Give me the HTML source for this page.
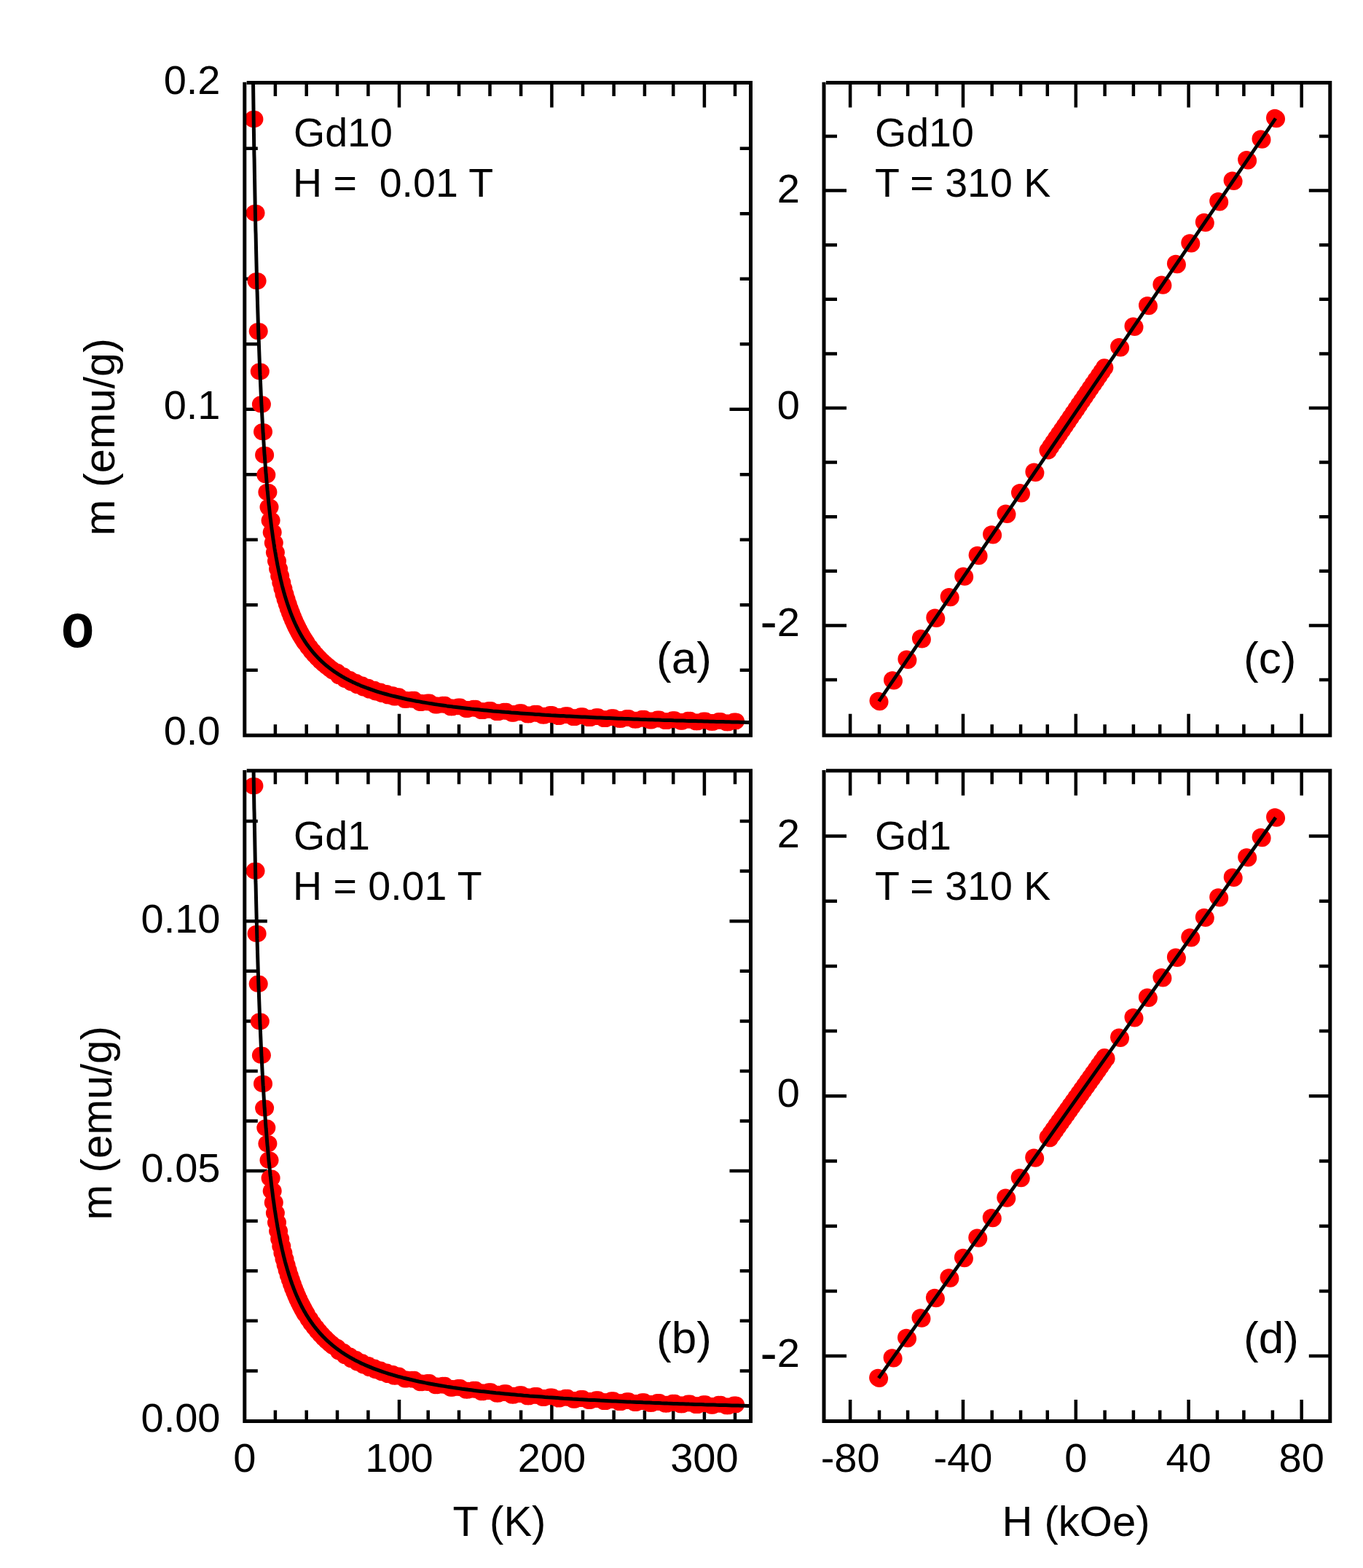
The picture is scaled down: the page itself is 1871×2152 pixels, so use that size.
<!DOCTYPE html>
<html><head><meta charset="utf-8"><title>Magnetization plots</title><style>
html,body{margin:0;padding:0;background:#fff;overflow:hidden;}
svg{display:block;}
text{font-family:"Liberation Sans",Arial,sans-serif;fill:#000;}
</style></head><body>
<svg width="1871" height="2152" viewBox="0 0 1871 2152">
<rect width="1871" height="2152" fill="#fff"/>
<defs>
<clipPath id="cA"><rect x="337.8" y="115.5" width="690.7" height="891.7"/></clipPath>
<clipPath id="cB"><rect x="337.8" y="1059.8" width="690.7" height="888.7"/></clipPath>
<clipPath id="cC"><rect x="1133" y="115.5" width="690.8" height="891.7"/></clipPath>
<clipPath id="cD"><rect x="1133" y="1059.8" width="690.8" height="888.7"/></clipPath>
</defs>
<path d="M377.9 1009.2V994.2M377.9 113.5V132M420.7 1009.2V994.2M420.7 113.5V132M463 1009.2V994.2M463 113.5V132M505.4 1009.2V994.2M505.4 113.5V132M548 1009.2V979.7M548 113.5V147.5M587.7 1009.2V994.2M587.7 113.5V132M630 1009.2V994.2M630 113.5V132M672.5 1009.2V994.2M672.5 113.5V132M715.1 1009.2V994.2M715.1 113.5V132M757.4 1009.2V979.7M757.4 113.5V147.5M800 1009.2V994.2M800 113.5V132M842.6 1009.2V994.2M842.6 113.5V132M884.9 1009.2V994.2M884.9 113.5V132M924.2 1009.2V994.2M924.2 113.5V132M966.9 1009.2V979.7M966.9 113.5V147.5M1009 1009.2V994.2M1009 113.5V132M335.8 919.7H353.8M1030.5 919.7H1015.7M335.8 830.2H353.8M1030.5 830.2H1015.7M335.8 740.7H353.8M1030.5 740.7H1015.7M335.8 651.2H353.8M1030.5 651.2H1015.7M335.8 561.7H366.8M1030.5 561.7H1001.5M335.8 472.2H353.8M1030.5 472.2H1015.7M335.8 382.7H353.8M1030.5 382.7H1015.7M335.8 293.2H353.8M1030.5 293.2H1015.7M335.8 203.7H353.8M1030.5 203.7H1015.7" stroke="#000" stroke-width="4.5" fill="none"/>
<path d="M377.9 1950.5V1935.5M377.9 1057.8V1076.3M420.7 1950.5V1935.5M420.7 1057.8V1076.3M463 1950.5V1935.5M463 1057.8V1076.3M505.4 1950.5V1935.5M505.4 1057.8V1076.3M548 1950.5V1921M548 1057.8V1091.8M587.7 1950.5V1935.5M587.7 1057.8V1076.3M630 1950.5V1935.5M630 1057.8V1076.3M672.5 1950.5V1935.5M672.5 1057.8V1076.3M715.1 1950.5V1935.5M715.1 1057.8V1076.3M757.4 1950.5V1921M757.4 1057.8V1091.8M800 1950.5V1935.5M800 1057.8V1076.3M842.6 1950.5V1935.5M842.6 1057.8V1076.3M884.9 1950.5V1935.5M884.9 1057.8V1076.3M924.2 1950.5V1935.5M924.2 1057.8V1076.3M966.9 1950.5V1921M966.9 1057.8V1091.8M1009 1950.5V1935.5M1009 1057.8V1076.3M335.8 1881.4H353.8M1030.5 1881.4H1015.7M335.8 1812.8H353.8M1030.5 1812.8H1015.7M335.8 1744.3H353.8M1030.5 1744.3H1015.7M335.8 1675.7H353.8M1030.5 1675.7H1015.7M335.8 1607.1H366.8M1030.5 1607.1H1001.5M335.8 1538.5H353.8M1030.5 1538.5H1015.7M335.8 1469.9H353.8M1030.5 1469.9H1015.7M335.8 1401.4H353.8M1030.5 1401.4H1015.7M335.8 1332.8H353.8M1030.5 1332.8H1015.7M335.8 1264.2H366.8M1030.5 1264.2H1001.5M335.8 1195.6H353.8M1030.5 1195.6H1015.7M335.8 1127H353.8M1030.5 1127H1015.7" stroke="#000" stroke-width="4.5" fill="none"/>
<path d="M1167.1 1009.2V979.7M1167.1 113.5V147.5M1207 1009.2V994.2M1207 113.5V132M1246.1 1009.2V994.2M1246.1 113.5V132M1285.9 1009.2V994.2M1285.9 113.5V132M1322 1009.2V979.7M1322 113.5V147.5M1361.7 1009.2V994.2M1361.7 113.5V132M1401.1 1009.2V994.2M1401.1 113.5V132M1437.8 1009.2V994.2M1437.8 113.5V132M1476.8 1009.2V979.7M1476.8 113.5V147.5M1516.6 1009.2V994.2M1516.6 113.5V132M1555.9 1009.2V994.2M1555.9 113.5V132M1592.2 1009.2V994.2M1592.2 113.5V132M1631.6 1009.2V979.7M1631.6 113.5V147.5M1671 1009.2V994.2M1671 113.5V132M1707.4 1009.2V994.2M1707.4 113.5V132M1746.9 1009.2V994.2M1746.9 113.5V132M1786.7 1009.2V979.7M1786.7 113.5V147.5M1131 933H1149M1825.8 933H1811M1131 858.4H1162M1825.8 858.4H1796.8M1131 783.8H1149M1825.8 783.8H1811M1131 709.2H1149M1825.8 709.2H1811M1131 634.6H1149M1825.8 634.6H1811M1131 560H1162M1825.8 560H1796.8M1131 485.4H1149M1825.8 485.4H1811M1131 410.8H1149M1825.8 410.8H1811M1131 336.2H1149M1825.8 336.2H1811M1131 261.6H1162M1825.8 261.6H1796.8M1131 187H1149M1825.8 187H1811" stroke="#000" stroke-width="4.5" fill="none"/>
<path d="M1167.1 1950.5V1921M1167.1 1057.8V1091.8M1207 1950.5V1935.5M1207 1057.8V1076.3M1246.1 1950.5V1935.5M1246.1 1057.8V1076.3M1285.9 1950.5V1935.5M1285.9 1057.8V1076.3M1322 1950.5V1921M1322 1057.8V1091.8M1361.7 1950.5V1935.5M1361.7 1057.8V1076.3M1401.1 1950.5V1935.5M1401.1 1057.8V1076.3M1437.8 1950.5V1935.5M1437.8 1057.8V1076.3M1476.8 1950.5V1921M1476.8 1057.8V1091.8M1516.6 1950.5V1935.5M1516.6 1057.8V1076.3M1555.9 1950.5V1935.5M1555.9 1057.8V1076.3M1592.2 1950.5V1935.5M1592.2 1057.8V1076.3M1631.6 1950.5V1921M1631.6 1057.8V1091.8M1671 1950.5V1935.5M1671 1057.8V1076.3M1707.4 1950.5V1935.5M1707.4 1057.8V1076.3M1746.9 1950.5V1935.5M1746.9 1057.8V1076.3M1786.7 1950.5V1921M1786.7 1057.8V1091.8M1131 1861.1H1162M1825.8 1861.1H1796.8M1131 1771.9H1149M1825.8 1771.9H1811M1131 1682.7H1149M1825.8 1682.7H1811M1131 1593.5H1149M1825.8 1593.5H1811M1131 1504.3H1162M1825.8 1504.3H1796.8M1131 1415.1H1149M1825.8 1415.1H1811M1131 1325.9H1149M1825.8 1325.9H1811M1131 1236.7H1149M1825.8 1236.7H1811M1131 1147.5H1162M1825.8 1147.5H1796.8" stroke="#000" stroke-width="4.5" fill="none"/>
<g fill="#ff0000">
<g clip-path="url(#cA)"><circle cx="346.8" cy="163.5" r="11.4"/><circle cx="350" cy="163.5" r="11.4"/><circle cx="348.9" cy="292.3" r="11.4"/><circle cx="352.1" cy="292.3" r="11.4"/><circle cx="351" cy="385.6" r="11.4"/><circle cx="354.2" cy="385.6" r="11.4"/><circle cx="353.1" cy="454.6" r="11.4"/><circle cx="356.3" cy="454.6" r="11.4"/><circle cx="355.2" cy="509.8" r="11.4"/><circle cx="358.4" cy="509.8" r="11.4"/><circle cx="357.3" cy="554.9" r="11.4"/><circle cx="360.5" cy="554.9" r="11.4"/><circle cx="359.4" cy="592.6" r="11.4"/><circle cx="362.6" cy="592.6" r="11.4"/><circle cx="361.5" cy="624.4" r="11.4"/><circle cx="364.7" cy="624.4" r="11.4"/><circle cx="363.7" cy="651.7" r="11.4"/><circle cx="366.9" cy="651.7" r="11.4"/><circle cx="365.8" cy="675.4" r="11.4"/><circle cx="369" cy="675.4" r="11.4"/><circle cx="367.9" cy="696.1" r="11.4"/><circle cx="371.1" cy="696.1" r="11.4"/><circle cx="370" cy="714.3" r="11.4"/><circle cx="373.2" cy="714.3" r="11.4"/><circle cx="372.1" cy="730.6" r="11.4"/><circle cx="375.3" cy="730.6" r="11.4"/><circle cx="374.2" cy="745.1" r="11.4"/><circle cx="377.4" cy="745.1" r="11.4"/><circle cx="376.3" cy="758.2" r="11.4"/><circle cx="379.5" cy="758.2" r="11.4"/><circle cx="378.4" cy="770" r="11.4"/><circle cx="381.6" cy="770" r="11.4"/><circle cx="380.5" cy="780.7" r="11.4"/><circle cx="383.7" cy="780.7" r="11.4"/><circle cx="382.6" cy="790.5" r="11.4"/><circle cx="385.8" cy="790.5" r="11.4"/><circle cx="384.7" cy="799.5" r="11.4"/><circle cx="387.9" cy="799.5" r="11.4"/><circle cx="386.8" cy="807.8" r="11.4"/><circle cx="390" cy="807.8" r="11.4"/><circle cx="388.9" cy="815.5" r="11.4"/><circle cx="392.1" cy="815.5" r="11.4"/><circle cx="391" cy="822.5" r="11.4"/><circle cx="394.2" cy="822.5" r="11.4"/><circle cx="393.1" cy="829.1" r="11.4"/><circle cx="396.3" cy="829.1" r="11.4"/><circle cx="395.2" cy="835.2" r="11.4"/><circle cx="398.4" cy="835.2" r="11.4"/><circle cx="397.3" cy="840.9" r="11.4"/><circle cx="400.5" cy="840.9" r="11.4"/><circle cx="399.4" cy="846.3" r="11.4"/><circle cx="402.6" cy="846.3" r="11.4"/><circle cx="401.5" cy="851.3" r="11.4"/><circle cx="404.7" cy="851.3" r="11.4"/><circle cx="403.6" cy="856" r="11.4"/><circle cx="406.8" cy="856" r="11.4"/><circle cx="405.7" cy="860.4" r="11.4"/><circle cx="408.9" cy="860.4" r="11.4"/><circle cx="407.8" cy="864.6" r="11.4"/><circle cx="411" cy="864.6" r="11.4"/><circle cx="409.9" cy="868.5" r="11.4"/><circle cx="413.1" cy="868.5" r="11.4"/><circle cx="412" cy="872.3" r="11.4"/><circle cx="415.2" cy="872.3" r="11.4"/><circle cx="414.1" cy="875.8" r="11.4"/><circle cx="417.3" cy="875.8" r="11.4"/><circle cx="416.2" cy="879.1" r="11.4"/><circle cx="419.4" cy="879.1" r="11.4"/><circle cx="418.3" cy="882.3" r="11.4"/><circle cx="421.5" cy="882.3" r="11.4"/><circle cx="422.6" cy="888.2" r="11.4"/><circle cx="425.8" cy="888.2" r="11.4"/><circle cx="426.8" cy="893.6" r="11.4"/><circle cx="430" cy="893.6" r="11.4"/><circle cx="431" cy="898.5" r="11.4"/><circle cx="434.2" cy="898.5" r="11.4"/><circle cx="435.2" cy="903" r="11.4"/><circle cx="438.4" cy="903" r="11.4"/><circle cx="439.4" cy="907.2" r="11.4"/><circle cx="442.6" cy="907.2" r="11.4"/><circle cx="443.6" cy="911" r="11.4"/><circle cx="446.8" cy="911" r="11.4"/><circle cx="447.8" cy="914.5" r="11.4"/><circle cx="451" cy="914.5" r="11.4"/><circle cx="452" cy="917.8" r="11.4"/><circle cx="455.2" cy="917.8" r="11.4"/><circle cx="456.2" cy="920.9" r="11.4"/><circle cx="459.4" cy="920.9" r="11.4"/><circle cx="460.4" cy="922.5" r="11.4"/><circle cx="463.6" cy="922.5" r="11.4"/><circle cx="464.6" cy="927.6" r="11.4"/><circle cx="467.8" cy="927.6" r="11.4"/><circle cx="468.8" cy="927.7" r="11.4"/><circle cx="472" cy="927.7" r="11.4"/><circle cx="473" cy="932.5" r="11.4"/><circle cx="476.2" cy="932.5" r="11.4"/><circle cx="477.3" cy="932.3" r="11.4"/><circle cx="480.5" cy="932.3" r="11.4"/><circle cx="481.5" cy="936.8" r="11.4"/><circle cx="484.7" cy="936.8" r="11.4"/><circle cx="485.7" cy="936.3" r="11.4"/><circle cx="488.9" cy="936.3" r="11.4"/><circle cx="489.9" cy="940.6" r="11.4"/><circle cx="493.1" cy="940.6" r="11.4"/><circle cx="494.1" cy="940" r="11.4"/><circle cx="497.3" cy="940" r="11.4"/><circle cx="498.3" cy="944" r="11.4"/><circle cx="501.5" cy="944" r="11.4"/><circle cx="502.5" cy="943.2" r="11.4"/><circle cx="505.7" cy="943.2" r="11.4"/><circle cx="506.7" cy="947.1" r="11.4"/><circle cx="509.9" cy="947.1" r="11.4"/><circle cx="510.9" cy="946.2" r="11.4"/><circle cx="514.1" cy="946.2" r="11.4"/><circle cx="515.1" cy="950" r="11.4"/><circle cx="518.3" cy="950" r="11.4"/><circle cx="519.3" cy="948.9" r="11.4"/><circle cx="522.5" cy="948.9" r="11.4"/><circle cx="523.5" cy="952.5" r="11.4"/><circle cx="526.7" cy="952.5" r="11.4"/><circle cx="527.7" cy="951.3" r="11.4"/><circle cx="530.9" cy="951.3" r="11.4"/><circle cx="531.9" cy="954.9" r="11.4"/><circle cx="535.1" cy="954.9" r="11.4"/><circle cx="536.2" cy="953.6" r="11.4"/><circle cx="539.4" cy="953.6" r="11.4"/><circle cx="540.4" cy="957" r="11.4"/><circle cx="543.6" cy="957" r="11.4"/><circle cx="544.6" cy="955.6" r="11.4"/><circle cx="547.8" cy="955.6" r="11.4"/><circle cx="555.1" cy="960.4" r="11.4"/><circle cx="558.3" cy="960.4" r="11.4"/><circle cx="565.6" cy="960.2" r="11.4"/><circle cx="568.8" cy="960.2" r="11.4"/><circle cx="576.1" cy="964.5" r="11.4"/><circle cx="579.3" cy="964.5" r="11.4"/><circle cx="586.6" cy="963.9" r="11.4"/><circle cx="589.8" cy="963.9" r="11.4"/><circle cx="597.2" cy="968" r="11.4"/><circle cx="600.4" cy="968" r="11.4"/><circle cx="607.7" cy="967.1" r="11.4"/><circle cx="610.9" cy="967.1" r="11.4"/><circle cx="618.2" cy="970.9" r="11.4"/><circle cx="621.4" cy="970.9" r="11.4"/><circle cx="628.7" cy="969.8" r="11.4"/><circle cx="631.9" cy="969.8" r="11.4"/><circle cx="639.2" cy="973.5" r="11.4"/><circle cx="642.4" cy="973.5" r="11.4"/><circle cx="649.8" cy="972.2" r="11.4"/><circle cx="653" cy="972.2" r="11.4"/><circle cx="660.3" cy="975.7" r="11.4"/><circle cx="663.5" cy="975.7" r="11.4"/><circle cx="670.8" cy="974.3" r="11.4"/><circle cx="674" cy="974.3" r="11.4"/><circle cx="681.3" cy="977.6" r="11.4"/><circle cx="684.5" cy="977.6" r="11.4"/><circle cx="691.8" cy="976.1" r="11.4"/><circle cx="695" cy="976.1" r="11.4"/><circle cx="702.3" cy="979.3" r="11.4"/><circle cx="705.5" cy="979.3" r="11.4"/><circle cx="712.9" cy="977.7" r="11.4"/><circle cx="716.1" cy="977.7" r="11.4"/><circle cx="723.4" cy="980.9" r="11.4"/><circle cx="726.6" cy="980.9" r="11.4"/><circle cx="733.9" cy="979.2" r="11.4"/><circle cx="737.1" cy="979.2" r="11.4"/><circle cx="744.4" cy="982.2" r="11.4"/><circle cx="747.6" cy="982.2" r="11.4"/><circle cx="754.9" cy="980.5" r="11.4"/><circle cx="758.1" cy="980.5" r="11.4"/><circle cx="765.5" cy="983.5" r="11.4"/><circle cx="768.7" cy="983.5" r="11.4"/><circle cx="776" cy="981.7" r="11.4"/><circle cx="779.2" cy="981.7" r="11.4"/><circle cx="786.5" cy="984.6" r="11.4"/><circle cx="789.7" cy="984.6" r="11.4"/><circle cx="797" cy="982.7" r="11.4"/><circle cx="800.2" cy="982.7" r="11.4"/><circle cx="807.5" cy="985.6" r="11.4"/><circle cx="810.7" cy="985.6" r="11.4"/><circle cx="818.1" cy="983.7" r="11.4"/><circle cx="821.3" cy="983.7" r="11.4"/><circle cx="828.6" cy="986.6" r="11.4"/><circle cx="831.8" cy="986.6" r="11.4"/><circle cx="839.1" cy="984.6" r="11.4"/><circle cx="842.3" cy="984.6" r="11.4"/><circle cx="849.6" cy="987.4" r="11.4"/><circle cx="852.8" cy="987.4" r="11.4"/><circle cx="860.1" cy="985.4" r="11.4"/><circle cx="863.3" cy="985.4" r="11.4"/><circle cx="870.6" cy="988.2" r="11.4"/><circle cx="873.8" cy="988.2" r="11.4"/><circle cx="881.2" cy="986.2" r="11.4"/><circle cx="884.4" cy="986.2" r="11.4"/><circle cx="891.7" cy="989" r="11.4"/><circle cx="894.9" cy="989" r="11.4"/><circle cx="902.2" cy="986.9" r="11.4"/><circle cx="905.4" cy="986.9" r="11.4"/><circle cx="912.7" cy="989.7" r="11.4"/><circle cx="915.9" cy="989.7" r="11.4"/><circle cx="923.2" cy="987.6" r="11.4"/><circle cx="926.4" cy="987.6" r="11.4"/><circle cx="933.8" cy="990.3" r="11.4"/><circle cx="937" cy="990.3" r="11.4"/><circle cx="944.3" cy="988.2" r="11.4"/><circle cx="947.5" cy="988.2" r="11.4"/><circle cx="954.8" cy="990.9" r="11.4"/><circle cx="958" cy="990.9" r="11.4"/><circle cx="965.3" cy="988.8" r="11.4"/><circle cx="968.5" cy="988.8" r="11.4"/><circle cx="975.8" cy="991.4" r="11.4"/><circle cx="979" cy="991.4" r="11.4"/><circle cx="986.3" cy="989.3" r="11.4"/><circle cx="989.5" cy="989.3" r="11.4"/><circle cx="996.9" cy="991.9" r="11.4"/><circle cx="1000.1" cy="991.9" r="11.4"/><circle cx="1007.4" cy="989.8" r="11.4"/><circle cx="1010.6" cy="989.8" r="11.4"/></g>
<g clip-path="url(#cB)"><circle cx="346.8" cy="1078.6" r="11.4"/><circle cx="350" cy="1078.6" r="11.4"/><circle cx="348.9" cy="1195.2" r="11.4"/><circle cx="352.1" cy="1195.2" r="11.4"/><circle cx="351" cy="1281.4" r="11.4"/><circle cx="354.2" cy="1281.4" r="11.4"/><circle cx="353.1" cy="1350.2" r="11.4"/><circle cx="356.3" cy="1350.2" r="11.4"/><circle cx="355.2" cy="1401.8" r="11.4"/><circle cx="358.4" cy="1401.8" r="11.4"/><circle cx="357.3" cy="1448.2" r="11.4"/><circle cx="360.5" cy="1448.2" r="11.4"/><circle cx="359.4" cy="1487.4" r="11.4"/><circle cx="362.6" cy="1487.4" r="11.4"/><circle cx="361.5" cy="1520.8" r="11.4"/><circle cx="364.7" cy="1520.8" r="11.4"/><circle cx="363.7" cy="1547.8" r="11.4"/><circle cx="366.9" cy="1547.8" r="11.4"/><circle cx="365.8" cy="1569.6" r="11.4"/><circle cx="369" cy="1569.6" r="11.4"/><circle cx="367.9" cy="1592.2" r="11.4"/><circle cx="371.1" cy="1592.2" r="11.4"/><circle cx="370" cy="1616.9" r="11.4"/><circle cx="373.2" cy="1616.9" r="11.4"/><circle cx="372.1" cy="1634.5" r="11.4"/><circle cx="375.3" cy="1634.5" r="11.4"/><circle cx="374.2" cy="1650.4" r="11.4"/><circle cx="377.4" cy="1650.4" r="11.4"/><circle cx="376.3" cy="1664.7" r="11.4"/><circle cx="379.5" cy="1664.7" r="11.4"/><circle cx="378.4" cy="1677.7" r="11.4"/><circle cx="381.6" cy="1677.7" r="11.4"/><circle cx="380.5" cy="1689.5" r="11.4"/><circle cx="383.7" cy="1689.5" r="11.4"/><circle cx="382.6" cy="1700.4" r="11.4"/><circle cx="385.8" cy="1700.4" r="11.4"/><circle cx="384.7" cy="1710.3" r="11.4"/><circle cx="387.9" cy="1710.3" r="11.4"/><circle cx="386.8" cy="1719.5" r="11.4"/><circle cx="390" cy="1719.5" r="11.4"/><circle cx="388.9" cy="1728.1" r="11.4"/><circle cx="392.1" cy="1728.1" r="11.4"/><circle cx="391" cy="1736" r="11.4"/><circle cx="394.2" cy="1736" r="11.4"/><circle cx="393.1" cy="1743.3" r="11.4"/><circle cx="396.3" cy="1743.3" r="11.4"/><circle cx="395.2" cy="1750.2" r="11.4"/><circle cx="398.4" cy="1750.2" r="11.4"/><circle cx="397.3" cy="1756.6" r="11.4"/><circle cx="400.5" cy="1756.6" r="11.4"/><circle cx="399.4" cy="1762.6" r="11.4"/><circle cx="402.6" cy="1762.6" r="11.4"/><circle cx="401.5" cy="1768.2" r="11.4"/><circle cx="404.7" cy="1768.2" r="11.4"/><circle cx="403.6" cy="1773.5" r="11.4"/><circle cx="406.8" cy="1773.5" r="11.4"/><circle cx="405.7" cy="1778.5" r="11.4"/><circle cx="408.9" cy="1778.5" r="11.4"/><circle cx="407.8" cy="1783.2" r="11.4"/><circle cx="411" cy="1783.2" r="11.4"/><circle cx="409.9" cy="1787.7" r="11.4"/><circle cx="413.1" cy="1787.7" r="11.4"/><circle cx="412" cy="1791.9" r="11.4"/><circle cx="415.2" cy="1791.9" r="11.4"/><circle cx="414.1" cy="1795.9" r="11.4"/><circle cx="417.3" cy="1795.9" r="11.4"/><circle cx="416.2" cy="1799.7" r="11.4"/><circle cx="419.4" cy="1799.7" r="11.4"/><circle cx="418.3" cy="1803.4" r="11.4"/><circle cx="421.5" cy="1803.4" r="11.4"/><circle cx="422.6" cy="1810.1" r="11.4"/><circle cx="425.8" cy="1810.1" r="11.4"/><circle cx="426.8" cy="1816.2" r="11.4"/><circle cx="430" cy="1816.2" r="11.4"/><circle cx="431" cy="1821.8" r="11.4"/><circle cx="434.2" cy="1821.8" r="11.4"/><circle cx="435.2" cy="1827" r="11.4"/><circle cx="438.4" cy="1827" r="11.4"/><circle cx="439.4" cy="1831.7" r="11.4"/><circle cx="442.6" cy="1831.7" r="11.4"/><circle cx="443.6" cy="1836.1" r="11.4"/><circle cx="446.8" cy="1836.1" r="11.4"/><circle cx="447.8" cy="1840.2" r="11.4"/><circle cx="451" cy="1840.2" r="11.4"/><circle cx="452" cy="1843.9" r="11.4"/><circle cx="455.2" cy="1843.9" r="11.4"/><circle cx="456.2" cy="1847.5" r="11.4"/><circle cx="459.4" cy="1847.5" r="11.4"/><circle cx="460.4" cy="1849.5" r="11.4"/><circle cx="463.6" cy="1849.5" r="11.4"/><circle cx="464.6" cy="1855" r="11.4"/><circle cx="467.8" cy="1855" r="11.4"/><circle cx="468.8" cy="1855.5" r="11.4"/><circle cx="472" cy="1855.5" r="11.4"/><circle cx="473" cy="1860.6" r="11.4"/><circle cx="476.2" cy="1860.6" r="11.4"/><circle cx="477.3" cy="1860.8" r="11.4"/><circle cx="480.5" cy="1860.8" r="11.4"/><circle cx="481.5" cy="1865.6" r="11.4"/><circle cx="484.7" cy="1865.6" r="11.4"/><circle cx="485.7" cy="1865.5" r="11.4"/><circle cx="488.9" cy="1865.5" r="11.4"/><circle cx="489.9" cy="1870" r="11.4"/><circle cx="493.1" cy="1870" r="11.4"/><circle cx="494.1" cy="1869.7" r="11.4"/><circle cx="497.3" cy="1869.7" r="11.4"/><circle cx="498.3" cy="1874" r="11.4"/><circle cx="501.5" cy="1874" r="11.4"/><circle cx="502.5" cy="1873.4" r="11.4"/><circle cx="505.7" cy="1873.4" r="11.4"/><circle cx="506.7" cy="1877.6" r="11.4"/><circle cx="509.9" cy="1877.6" r="11.4"/><circle cx="510.9" cy="1876.9" r="11.4"/><circle cx="514.1" cy="1876.9" r="11.4"/><circle cx="515.1" cy="1880.9" r="11.4"/><circle cx="518.3" cy="1880.9" r="11.4"/><circle cx="519.3" cy="1880" r="11.4"/><circle cx="522.5" cy="1880" r="11.4"/><circle cx="523.5" cy="1883.8" r="11.4"/><circle cx="526.7" cy="1883.8" r="11.4"/><circle cx="527.7" cy="1882.8" r="11.4"/><circle cx="530.9" cy="1882.8" r="11.4"/><circle cx="531.9" cy="1886.6" r="11.4"/><circle cx="535.1" cy="1886.6" r="11.4"/><circle cx="536.2" cy="1885.5" r="11.4"/><circle cx="539.4" cy="1885.5" r="11.4"/><circle cx="540.4" cy="1889.1" r="11.4"/><circle cx="543.6" cy="1889.1" r="11.4"/><circle cx="544.6" cy="1887.9" r="11.4"/><circle cx="547.8" cy="1887.9" r="11.4"/><circle cx="555.1" cy="1893" r="11.4"/><circle cx="558.3" cy="1893" r="11.4"/><circle cx="565.6" cy="1893.1" r="11.4"/><circle cx="568.8" cy="1893.1" r="11.4"/><circle cx="576.1" cy="1897.8" r="11.4"/><circle cx="579.3" cy="1897.8" r="11.4"/><circle cx="586.6" cy="1897.5" r="11.4"/><circle cx="589.8" cy="1897.5" r="11.4"/><circle cx="597.2" cy="1901.8" r="11.4"/><circle cx="600.4" cy="1901.8" r="11.4"/><circle cx="607.7" cy="1901.2" r="11.4"/><circle cx="610.9" cy="1901.2" r="11.4"/><circle cx="618.2" cy="1905.3" r="11.4"/><circle cx="621.4" cy="1905.3" r="11.4"/><circle cx="628.7" cy="1904.4" r="11.4"/><circle cx="631.9" cy="1904.4" r="11.4"/><circle cx="639.2" cy="1908.2" r="11.4"/><circle cx="642.4" cy="1908.2" r="11.4"/><circle cx="649.8" cy="1907.2" r="11.4"/><circle cx="653" cy="1907.2" r="11.4"/><circle cx="660.3" cy="1910.8" r="11.4"/><circle cx="663.5" cy="1910.8" r="11.4"/><circle cx="670.8" cy="1909.6" r="11.4"/><circle cx="674" cy="1909.6" r="11.4"/><circle cx="681.3" cy="1913.1" r="11.4"/><circle cx="684.5" cy="1913.1" r="11.4"/><circle cx="691.8" cy="1911.7" r="11.4"/><circle cx="695" cy="1911.7" r="11.4"/><circle cx="702.3" cy="1915.1" r="11.4"/><circle cx="705.5" cy="1915.1" r="11.4"/><circle cx="712.9" cy="1913.6" r="11.4"/><circle cx="716.1" cy="1913.6" r="11.4"/><circle cx="723.4" cy="1916.9" r="11.4"/><circle cx="726.6" cy="1916.9" r="11.4"/><circle cx="733.9" cy="1915.3" r="11.4"/><circle cx="737.1" cy="1915.3" r="11.4"/><circle cx="744.4" cy="1918.5" r="11.4"/><circle cx="747.6" cy="1918.5" r="11.4"/><circle cx="754.9" cy="1916.8" r="11.4"/><circle cx="758.1" cy="1916.8" r="11.4"/><circle cx="765.5" cy="1920" r="11.4"/><circle cx="768.7" cy="1920" r="11.4"/><circle cx="776" cy="1918.2" r="11.4"/><circle cx="779.2" cy="1918.2" r="11.4"/><circle cx="786.5" cy="1921.3" r="11.4"/><circle cx="789.7" cy="1921.3" r="11.4"/><circle cx="797" cy="1919.5" r="11.4"/><circle cx="800.2" cy="1919.5" r="11.4"/><circle cx="807.5" cy="1922.5" r="11.4"/><circle cx="810.7" cy="1922.5" r="11.4"/><circle cx="818.1" cy="1920.6" r="11.4"/><circle cx="821.3" cy="1920.6" r="11.4"/><circle cx="828.6" cy="1923.6" r="11.4"/><circle cx="831.8" cy="1923.6" r="11.4"/><circle cx="839.1" cy="1921.7" r="11.4"/><circle cx="842.3" cy="1921.7" r="11.4"/><circle cx="849.6" cy="1924.6" r="11.4"/><circle cx="852.8" cy="1924.6" r="11.4"/><circle cx="860.1" cy="1922.7" r="11.4"/><circle cx="863.3" cy="1922.7" r="11.4"/><circle cx="870.6" cy="1925.5" r="11.4"/><circle cx="873.8" cy="1925.5" r="11.4"/><circle cx="881.2" cy="1923.6" r="11.4"/><circle cx="884.4" cy="1923.6" r="11.4"/><circle cx="891.7" cy="1926.4" r="11.4"/><circle cx="894.9" cy="1926.4" r="11.4"/><circle cx="902.2" cy="1924.4" r="11.4"/><circle cx="905.4" cy="1924.4" r="11.4"/><circle cx="912.7" cy="1927.2" r="11.4"/><circle cx="915.9" cy="1927.2" r="11.4"/><circle cx="923.2" cy="1925.2" r="11.4"/><circle cx="926.4" cy="1925.2" r="11.4"/><circle cx="933.8" cy="1927.9" r="11.4"/><circle cx="937" cy="1927.9" r="11.4"/><circle cx="944.3" cy="1925.9" r="11.4"/><circle cx="947.5" cy="1925.9" r="11.4"/><circle cx="954.8" cy="1928.6" r="11.4"/><circle cx="958" cy="1928.6" r="11.4"/><circle cx="965.3" cy="1926.6" r="11.4"/><circle cx="968.5" cy="1926.6" r="11.4"/><circle cx="975.8" cy="1929.3" r="11.4"/><circle cx="979" cy="1929.3" r="11.4"/><circle cx="986.3" cy="1927.2" r="11.4"/><circle cx="989.5" cy="1927.2" r="11.4"/><circle cx="996.9" cy="1929.9" r="11.4"/><circle cx="1000.1" cy="1929.9" r="11.4"/><circle cx="1007.4" cy="1927.8" r="11.4"/><circle cx="1010.6" cy="1927.8" r="11.4"/></g>
<g clip-path="url(#cC)"><circle cx="1205.5" cy="961.8" r="12"/><circle cx="1207.5" cy="963.2" r="12"/><circle cx="1225" cy="933.2" r="12"/><circle cx="1227" cy="934.6" r="12"/><circle cx="1244.4" cy="904.6" r="12"/><circle cx="1246.4" cy="906" r="12"/><circle cx="1263.9" cy="876.1" r="12"/><circle cx="1265.9" cy="877.5" r="12"/><circle cx="1283.3" cy="847.5" r="12"/><circle cx="1285.3" cy="848.9" r="12"/><circle cx="1302.7" cy="818.9" r="12"/><circle cx="1304.7" cy="820.3" r="12"/><circle cx="1322.2" cy="790.4" r="12"/><circle cx="1324.2" cy="791.8" r="12"/><circle cx="1341.6" cy="761.8" r="12"/><circle cx="1343.6" cy="763.2" r="12"/><circle cx="1361.1" cy="733.2" r="12"/><circle cx="1363.1" cy="734.6" r="12"/><circle cx="1380.5" cy="704.6" r="12"/><circle cx="1382.5" cy="706.1" r="12"/><circle cx="1400" cy="676.1" r="12"/><circle cx="1402" cy="677.5" r="12"/><circle cx="1419.4" cy="647.5" r="12"/><circle cx="1421.4" cy="648.9" r="12"/><circle cx="1536.1" cy="476.1" r="12"/><circle cx="1538.1" cy="477.5" r="12"/><circle cx="1555.5" cy="447.5" r="12"/><circle cx="1557.5" cy="448.9" r="12"/><circle cx="1575" cy="418.9" r="12"/><circle cx="1577" cy="420.3" r="12"/><circle cx="1594.4" cy="390.4" r="12"/><circle cx="1596.4" cy="391.8" r="12"/><circle cx="1613.9" cy="361.8" r="12"/><circle cx="1615.9" cy="363.2" r="12"/><circle cx="1633.3" cy="333.2" r="12"/><circle cx="1635.3" cy="334.6" r="12"/><circle cx="1652.8" cy="304.7" r="12"/><circle cx="1654.8" cy="306.1" r="12"/><circle cx="1672.2" cy="276.1" r="12"/><circle cx="1674.2" cy="277.5" r="12"/><circle cx="1691.6" cy="247.5" r="12"/><circle cx="1693.6" cy="248.9" r="12"/><circle cx="1711.1" cy="219" r="12"/><circle cx="1713.1" cy="220.4" r="12"/><circle cx="1730.5" cy="190.4" r="12"/><circle cx="1732.5" cy="191.8" r="12"/><circle cx="1750" cy="161.8" r="12"/><circle cx="1752" cy="163.2" r="12"/><circle cx="1438.1" cy="618.1" r="11.6"/><circle cx="1439.1" cy="618.8" r="11.6"/><circle cx="1441.9" cy="612.4" r="11.6"/><circle cx="1442.9" cy="613.1" r="11.6"/><circle cx="1445.8" cy="606.7" r="11.6"/><circle cx="1446.8" cy="607.4" r="11.6"/><circle cx="1449.7" cy="601" r="11.6"/><circle cx="1450.7" cy="601.7" r="11.6"/><circle cx="1453.6" cy="595.3" r="11.6"/><circle cx="1454.6" cy="596" r="11.6"/><circle cx="1457.5" cy="589.6" r="11.6"/><circle cx="1458.5" cy="590.3" r="11.6"/><circle cx="1461.4" cy="583.9" r="11.6"/><circle cx="1462.4" cy="584.6" r="11.6"/><circle cx="1465.3" cy="578.1" r="11.6"/><circle cx="1466.3" cy="578.8" r="11.6"/><circle cx="1469.2" cy="572.4" r="11.6"/><circle cx="1470.2" cy="573.1" r="11.6"/><circle cx="1473.1" cy="566.7" r="11.6"/><circle cx="1474.1" cy="567.4" r="11.6"/><circle cx="1477" cy="561" r="11.6"/><circle cx="1478" cy="561.7" r="11.6"/><circle cx="1480.8" cy="555.3" r="11.6"/><circle cx="1481.8" cy="556" r="11.6"/><circle cx="1484.7" cy="549.6" r="11.6"/><circle cx="1485.7" cy="550.3" r="11.6"/><circle cx="1488.6" cy="543.9" r="11.6"/><circle cx="1489.6" cy="544.6" r="11.6"/><circle cx="1492.5" cy="538.1" r="11.6"/><circle cx="1493.5" cy="538.8" r="11.6"/><circle cx="1496.4" cy="532.4" r="11.6"/><circle cx="1497.4" cy="533.1" r="11.6"/><circle cx="1500.3" cy="526.7" r="11.6"/><circle cx="1501.3" cy="527.4" r="11.6"/><circle cx="1504.2" cy="521" r="11.6"/><circle cx="1505.2" cy="521.7" r="11.6"/><circle cx="1508.1" cy="515.3" r="11.6"/><circle cx="1509.1" cy="516" r="11.6"/><circle cx="1512" cy="509.6" r="11.6"/><circle cx="1513" cy="510.3" r="11.6"/><circle cx="1515.8" cy="503.9" r="11.6"/><circle cx="1516.8" cy="504.6" r="11.6"/></g>
<g clip-path="url(#cD)"><circle cx="1205.1" cy="1890.7" r="12"/><circle cx="1207.1" cy="1892.1" r="12"/><circle cx="1224.6" cy="1863.2" r="12"/><circle cx="1226.6" cy="1864.6" r="12"/><circle cx="1244" cy="1835.8" r="12"/><circle cx="1246" cy="1837.2" r="12"/><circle cx="1263.5" cy="1808.3" r="12"/><circle cx="1265.5" cy="1809.7" r="12"/><circle cx="1282.9" cy="1780.8" r="12"/><circle cx="1284.9" cy="1782.2" r="12"/><circle cx="1302.4" cy="1753.3" r="12"/><circle cx="1304.4" cy="1754.7" r="12"/><circle cx="1321.9" cy="1725.8" r="12"/><circle cx="1323.9" cy="1727.2" r="12"/><circle cx="1341.3" cy="1698.4" r="12"/><circle cx="1343.3" cy="1699.8" r="12"/><circle cx="1360.8" cy="1670.9" r="12"/><circle cx="1362.8" cy="1672.3" r="12"/><circle cx="1380.3" cy="1643.4" r="12"/><circle cx="1382.3" cy="1644.8" r="12"/><circle cx="1399.7" cy="1615.9" r="12"/><circle cx="1401.7" cy="1617.3" r="12"/><circle cx="1419.2" cy="1588.4" r="12"/><circle cx="1421.2" cy="1589.8" r="12"/><circle cx="1536" cy="1423.6" r="12"/><circle cx="1538" cy="1425" r="12"/><circle cx="1555.5" cy="1396.1" r="12"/><circle cx="1557.5" cy="1397.5" r="12"/><circle cx="1574.9" cy="1368.6" r="12"/><circle cx="1576.9" cy="1370" r="12"/><circle cx="1594.4" cy="1341.1" r="12"/><circle cx="1596.4" cy="1342.5" r="12"/><circle cx="1613.9" cy="1313.6" r="12"/><circle cx="1615.9" cy="1315" r="12"/><circle cx="1633.3" cy="1286.2" r="12"/><circle cx="1635.3" cy="1287.6" r="12"/><circle cx="1652.8" cy="1258.7" r="12"/><circle cx="1654.8" cy="1260.1" r="12"/><circle cx="1672.2" cy="1231.2" r="12"/><circle cx="1674.2" cy="1232.6" r="12"/><circle cx="1691.7" cy="1203.7" r="12"/><circle cx="1693.7" cy="1205.1" r="12"/><circle cx="1711.2" cy="1176.2" r="12"/><circle cx="1713.2" cy="1177.6" r="12"/><circle cx="1730.6" cy="1148.8" r="12"/><circle cx="1732.6" cy="1150.2" r="12"/><circle cx="1750.1" cy="1121.3" r="12"/><circle cx="1752.1" cy="1122.7" r="12"/><circle cx="1438.2" cy="1560.7" r="11.6"/><circle cx="1441.2" cy="1562.7" r="11.6"/><circle cx="1442.1" cy="1555.2" r="11.6"/><circle cx="1445.1" cy="1557.2" r="11.6"/><circle cx="1446" cy="1549.7" r="11.6"/><circle cx="1449" cy="1551.7" r="11.6"/><circle cx="1449.8" cy="1544.2" r="11.6"/><circle cx="1452.8" cy="1546.2" r="11.6"/><circle cx="1453.7" cy="1538.7" r="11.6"/><circle cx="1456.7" cy="1540.7" r="11.6"/><circle cx="1457.6" cy="1533.2" r="11.6"/><circle cx="1460.6" cy="1535.2" r="11.6"/><circle cx="1461.5" cy="1527.7" r="11.6"/><circle cx="1464.5" cy="1529.7" r="11.6"/><circle cx="1465.4" cy="1522.2" r="11.6"/><circle cx="1468.4" cy="1524.2" r="11.6"/><circle cx="1469.3" cy="1516.7" r="11.6"/><circle cx="1472.3" cy="1518.7" r="11.6"/><circle cx="1473.2" cy="1511.2" r="11.6"/><circle cx="1476.2" cy="1513.2" r="11.6"/><circle cx="1477.1" cy="1505.7" r="11.6"/><circle cx="1480.1" cy="1507.7" r="11.6"/><circle cx="1481" cy="1500.2" r="11.6"/><circle cx="1484" cy="1502.2" r="11.6"/><circle cx="1484.9" cy="1494.7" r="11.6"/><circle cx="1487.9" cy="1496.7" r="11.6"/><circle cx="1488.8" cy="1489.2" r="11.6"/><circle cx="1491.8" cy="1491.2" r="11.6"/><circle cx="1492.7" cy="1483.7" r="11.6"/><circle cx="1495.7" cy="1485.7" r="11.6"/><circle cx="1496.6" cy="1478.2" r="11.6"/><circle cx="1499.6" cy="1480.2" r="11.6"/><circle cx="1500.5" cy="1472.7" r="11.6"/><circle cx="1503.5" cy="1474.7" r="11.6"/><circle cx="1504.4" cy="1467.2" r="11.6"/><circle cx="1507.4" cy="1469.2" r="11.6"/><circle cx="1508.2" cy="1461.7" r="11.6"/><circle cx="1511.2" cy="1463.7" r="11.6"/><circle cx="1512.1" cy="1456.2" r="11.6"/><circle cx="1515.1" cy="1458.2" r="11.6"/><circle cx="1516" cy="1450.7" r="11.6"/><circle cx="1519" cy="1452.7" r="11.6"/></g>
</g>
<g clip-path="url(#cA)"><polyline points="347.5,111.5 347.6,119.5 347.7,127.4 347.8,135.1 347.9,142.6 348,150.1 348.1,157.4 348.2,164.6 348.3,171.7 348.4,178.6 348.5,185.5 348.6,192.2 348.7,198.8 348.8,205.3 348.9,211.8 349.1,218.1 349.2,224.3 349.3,230.4 349.4,236.4 349.5,242.3 349.6,248.2 349.7,253.9 349.8,259.6 349.9,265.1 350,270.6 350.1,276 350.2,281.4 350.3,286.6 350.4,291.8 350.5,296.9 350.6,301.9 350.7,306.9 350.8,311.8 350.9,316.6 351.1,321.4 351.2,326.1 351.3,330.7 351.4,335.3 351.5,339.8 351.6,344.2 351.7,348.6 351.8,352.9 351.9,357.2 352,361.4 352.1,365.6 352.2,369.7 352.3,373.7 352.4,377.7 352.5,381.7 352.6,385.6 352.7,389.5 352.8,393.3 352.9,397 353.1,400.8 353.2,404.4 353.3,408.1 353.4,411.6 353.5,415.2 353.6,418.7 353.7,422.1 353.8,425.6 353.9,428.9 354,432.3 354.1,435.6 354.2,438.8 354.3,442.1 354.4,445.2 354.5,448.4 354.6,451.5 354.7,454.6 354.8,457.6 354.9,460.7 355,463.6 355.2,466.6 355.3,469.5 355.4,472.4 355.5,475.3 355.6,478.1 355.7,480.9 355.8,483.6 355.9,486.4 356,489.1 356.1,491.8 356.2,494.4 356.3,497.1 356.4,499.7 356.5,502.2 356.6,504.8 356.7,507.3 356.8,509.8 356.9,512.3 357,514.7 357.2,517.1 357.3,519.5 357.4,521.9 357.5,524.3 357.6,526.6 357.7,528.9 357.8,531.2 357.9,533.4 358,535.7 358.1,537.9 358.2,540.1 358.3,542.3 358.4,544.4 358.5,546.6 358.6,548.7 358.7,550.8 358.8,552.9 358.9,554.9 359,557 359.2,559 359.3,561 359.4,563 359.5,565 359.6,566.9 359.7,568.9 359.8,570.8 359.9,572.7 360,574.6 360.1,576.5 360.2,578.3 360.3,580.1 360.4,582 360.5,583.8 360.6,585.6 360.7,587.3 360.8,589.1 360.9,590.8 361,592.6 361.1,594.3 361.3,596 361.4,597.7 361.5,599.4 361.6,601 361.7,602.7 361.8,604.3 361.9,605.9 362,607.5 362.1,609.1 362.2,610.7 362.3,612.3 362.4,613.8 362.5,615.4 362.6,616.9 362.7,618.4 362.8,620 362.9,621.5 363,622.9 363.1,624.4 363.3,625.9 363.4,627.3 363.5,628.8 363.6,630.2 363.7,631.6 363.8,633 363.9,634.4 364,635.8 364.1,637.2 364.2,638.6 364.3,639.9 364.4,641.3 364.5,642.6 364.6,643.9 364.7,645.3 364.8,646.6 364.9,647.9 365,649.2 365.1,650.4 365.3,651.7 365.4,653 365.5,654.2 365.6,655.5 365.7,656.7 365.8,657.9 365.9,659.2 366,660.4 366.1,661.6 366.2,662.8 366.3,663.9 366.4,665.1 366.5,666.3 366.6,667.5 366.7,668.6 366.8,669.8 366.9,670.9 367,672 367.1,673.1 367.3,674.3 367.4,675.4 367.5,676.5 367.6,677.6 367.7,678.6 367.8,679.7 367.9,680.8 368,681.9 368.1,682.9 368.2,684 368.3,685 368.4,686 368.5,687.1 368.6,688.1 368.7,689.1 368.8,690.1 368.9,691.1 369,692.1 369.1,693.1 369.2,694.1 369.4,695.1 369.5,696.1 369.6,697 369.7,698 369.8,698.9 369.9,699.9 370,700.8 370.1,701.8 370.2,702.7 370.3,703.6 370.4,704.6 370.5,705.5 370.6,706.4 370.7,707.3 370.8,708.2 370.9,709.1 371,710 371.1,710.8 371.2,711.7 371.4,712.6 371.5,713.5 371.6,714.3 371.7,715.2 371.8,716 371.9,716.9 372,717.7 372.1,718.6 372.2,719.4 372.3,720.2 372.4,721 372.5,721.9 372.6,722.7 372.7,723.5 372.8,724.3 372.9,725.1 373,725.9 373.1,726.7 373.2,727.5 373.4,728.2 373.5,729 373.6,729.8 373.7,730.6 373.8,731.3 373.9,732.1 374,732.8 374.1,733.6 374.2,734.3 374.3,735.1 374.4,735.8 374.5,736.6 374.6,737.3 374.7,738 374.8,738.7 374.9,739.5 375,740.2 375.1,740.9 375.2,741.6 375.3,742.3 375.5,743 375.6,743.7 375.7,744.4 375.8,745.1 375.9,745.8 376,746.4 376.1,747.1 376.2,747.8 376.3,748.5 376.4,749.1 376.5,749.8 376.6,750.5 376.7,751.1 376.8,751.8 376.9,752.4 377,753.1 377.1,753.7 377.2,754.4 377.3,755 377.5,755.6 377.6,756.3 377.7,756.9 377.8,757.5 377.9,758.2 378.9,764.2 380,770 381,775.5 382.1,780.7 383.1,785.7 384.2,790.5 385.2,795.1 386.3,799.5 387.3,803.8 388.4,807.8 389.4,811.7 390.5,815.5 391.5,819.1 392.6,822.5 393.7,825.9 394.7,829.1 395.8,832.2 396.8,835.2 397.9,838.1 398.9,840.9 400,843.7 401,846.3 402.1,848.8 403.1,851.3 404.2,853.7 405.2,856 406.3,858.2 407.3,860.4 408.4,862.5 409.4,864.6 410.5,866.6 411.5,868.5 412.6,870.4 413.6,872.3 414.7,874.1 415.7,875.8 416.8,877.5 417.8,879.1 418.9,880.8 419.9,882.3 421,883.9 422.1,885.4 423.1,886.8 424.2,888.2 425.2,889.6 426.3,891 427.3,892.3 428.4,893.6 429.4,894.9 430.5,896.1 431.5,897.3 432.6,898.5 433.6,899.7 434.7,900.8 435.7,901.9 436.8,903 437.8,904.1 438.9,905.1 439.9,906.2 441,907.2 442,908.2 443.1,909.1 444.1,910.1 445.2,911 446.2,911.9 447.3,912.8 448.3,913.7 449.4,914.5 450.5,915.4 451.5,916.2 452.6,917 453.6,917.8 454.7,918.6 455.7,919.4 456.8,920.1 457.8,920.9 458.9,921.6 459.9,922.3 461,923 462,923.7 463.1,924.4 464.1,925.1 465.2,925.7 466.2,926.4 467.3,927 468.3,927.7 469.4,928.3 470.4,928.9 471.5,929.5 472.5,930.1 473.6,930.7 474.6,931.3 475.7,931.8 476.7,932.4 477.8,932.9 478.9,933.5 479.9,934 481,934.5 482,935 483.1,935.6 484.1,936.1 485.2,936.6 486.2,937 487.3,937.5 488.3,938 489.4,938.5 490.4,938.9 491.5,939.4 492.5,939.8 493.6,940.3 494.6,940.7 495.7,941.2 496.7,941.6 497.8,942 498.8,942.4 499.9,942.8 500.9,943.2 502,943.6 503,944 504.1,944.4 508.3,945.9 512.5,947.4 516.7,948.8 520.9,950.1 525.1,951.3 529.3,952.5 533.5,953.7 537.8,954.8 542,955.8 546.2,956.8 550.4,957.8 554.6,958.8 558.8,959.7 563,960.5 567.2,961.4 571.4,962.2 575.6,962.9 579.8,963.7 584,964.4 588.2,965.1 592.5,965.8 596.7,966.5 600.9,967.1 605.1,967.7 609.3,968.3 613.5,968.9 617.7,969.4 621.9,970 626.1,970.5 630.3,971 634.5,971.5 638.7,972 642.9,972.5 647.1,973 651.4,973.4 655.6,973.8 659.8,974.3 664,974.7 668.2,975.1 672.4,975.5 676.6,975.9 680.8,976.2 685,976.6 689.2,976.9 693.4,977.3 697.6,977.6 701.8,978 706.1,978.3 710.3,978.6 714.5,978.9 718.7,979.2 722.9,979.5 727.1,979.8 731.3,980.1 735.5,980.4 739.7,980.6 743.9,980.9 748.1,981.2 752.3,981.4 756.5,981.7 760.7,981.9 765,982.2 769.2,982.4 773.4,982.6 777.6,982.9 781.8,983.1 786,983.3 790.2,983.5 794.4,983.7 798.6,983.9 802.8,984.1 807,984.3 811.2,984.5 815.4,984.7 819.7,984.9 823.9,985.1 828.1,985.3 832.3,985.5 836.5,985.6 840.7,985.8 844.9,986 849.1,986.2 853.3,986.3 857.5,986.5 861.7,986.6 865.9,986.8 870.1,987 874.3,987.1 878.6,987.3 882.8,987.4 887,987.6 891.2,987.7 895.4,987.8 899.6,988 903.8,988.1 908,988.3 912.2,988.4 916.4,988.5 920.6,988.6 924.8,988.8 929,988.9 933.3,989 937.5,989.1 941.7,989.3 945.9,989.4 950.1,989.5 954.3,989.6 958.5,989.7 962.7,989.8 966.9,990 971.1,990.1 975.3,990.2 979.5,990.3 983.7,990.4 987.9,990.5 992.2,990.6 996.4,990.7 1000.6,990.8 1004.8,990.9 1009,991 1013.2,991.1 1017.4,991.2 1021.6,991.3 1025.8,991.4 1030,991.5" fill="none" stroke="#000" stroke-width="5" stroke-linejoin="round"/></g>
<g clip-path="url(#cB)"><polyline points="348.1,1058.8 348.2,1065.5 348.3,1072.1 348.4,1078.6 348.5,1085 348.6,1091.3 348.7,1097.5 348.8,1103.6 348.9,1109.6 349.1,1115.5 349.2,1121.4 349.3,1127.2 349.4,1132.9 349.5,1138.5 349.6,1144 349.7,1149.5 349.8,1154.9 349.9,1160.2 350,1165.4 350.1,1170.6 350.2,1175.7 350.3,1180.8 350.4,1185.8 350.5,1190.7 350.6,1195.5 350.7,1200.3 350.8,1205 350.9,1209.7 351.1,1214.3 351.2,1218.9 351.3,1223.4 351.4,1227.8 351.5,1232.2 351.6,1236.5 351.7,1240.8 351.8,1245 351.9,1249.2 352,1253.3 352.1,1257.4 352.2,1261.5 352.3,1265.4 352.4,1269.4 352.5,1273.3 352.6,1277.1 352.7,1280.9 352.8,1284.7 352.9,1288.4 353.1,1292.1 353.2,1295.7 353.3,1299.3 353.4,1302.9 353.5,1306.4 353.6,1309.9 353.7,1313.4 353.8,1316.8 353.9,1320.1 354,1323.5 354.1,1326.8 354.2,1330 354.3,1333.3 354.4,1336.5 354.5,1339.6 354.6,1342.8 354.7,1345.9 354.8,1348.9 354.9,1352 355,1355 355.2,1358 355.3,1360.9 355.4,1363.8 355.5,1366.7 355.6,1369.6 355.7,1372.4 355.8,1375.2 355.9,1378 356,1380.7 356.1,1383.5 356.2,1386.1 356.3,1388.8 356.4,1391.5 356.5,1394.1 356.6,1396.7 356.7,1399.3 356.8,1401.8 356.9,1404.3 357,1406.8 357.2,1409.3 357.3,1411.8 357.4,1414.2 357.5,1416.6 357.6,1419 357.7,1421.4 357.8,1423.7 357.9,1426 358,1428.4 358.1,1430.6 358.2,1432.9 358.3,1435.2 358.4,1437.4 358.5,1439.6 358.6,1441.8 358.7,1443.9 358.8,1446.1 358.9,1448.2 359,1450.3 359.2,1452.4 359.3,1454.5 359.4,1456.6 359.5,1458.6 359.6,1460.7 359.7,1462.7 359.8,1464.7 359.9,1466.6 360,1468.6 360.1,1470.5 360.2,1472.5 360.3,1474.4 360.4,1476.3 360.5,1478.2 360.6,1480 360.7,1481.9 360.8,1483.7 360.9,1485.6 361,1487.4 361.1,1489.2 361.3,1490.9 361.4,1492.7 361.5,1494.5 361.6,1496.2 361.7,1497.9 361.8,1499.7 361.9,1501.4 362,1503 362.1,1504.7 362.2,1506.4 362.3,1508 362.4,1509.7 362.5,1511.3 362.6,1512.9 362.7,1514.5 362.8,1516.1 362.9,1517.7 363,1519.3 363.1,1520.8 363.3,1522.4 363.4,1523.9 363.5,1525.4 363.6,1526.9 363.7,1528.4 363.8,1529.9 363.9,1531.4 364,1532.9 364.1,1534.3 364.2,1535.8 364.3,1537.2 364.4,1538.6 364.5,1540.1 364.6,1541.5 364.7,1542.9 364.8,1544.3 364.9,1545.6 365,1547 365.1,1548.4 365.3,1549.7 365.4,1551.1 365.5,1552.4 365.6,1553.7 365.7,1555 365.8,1556.4 365.9,1557.6 366,1558.9 366.1,1560.2 366.2,1561.5 366.3,1562.8 366.4,1564 366.5,1565.3 366.6,1566.5 366.7,1567.7 366.8,1569 366.9,1570.2 367,1571.4 367.1,1572.6 367.3,1573.8 367.4,1575 367.5,1576.1 367.6,1577.3 367.7,1578.5 367.8,1579.6 367.9,1580.8 368,1581.9 368.1,1583.1 368.2,1584.2 368.3,1585.3 368.4,1586.4 368.5,1587.5 368.6,1588.6 368.7,1589.7 368.8,1590.8 368.9,1591.9 369,1593 369.1,1594 369.2,1595.1 369.4,1596.1 369.5,1597.2 369.6,1598.2 369.7,1599.3 369.8,1600.3 369.9,1601.3 370,1602.3 370.1,1603.4 370.2,1604.4 370.3,1605.4 370.4,1606.4 370.5,1607.3 370.6,1608.3 370.7,1609.3 370.8,1610.3 370.9,1611.2 371,1612.2 371.1,1613.1 371.2,1614.1 371.4,1615 371.5,1616 371.6,1616.9 371.7,1617.8 371.8,1618.8 371.9,1619.7 372,1620.6 372.1,1621.5 372.2,1622.4 372.3,1623.3 372.4,1624.2 372.5,1625.1 372.6,1626 372.7,1626.8 372.8,1627.7 372.9,1628.6 373,1629.4 373.1,1630.3 373.2,1631.2 373.4,1632 373.5,1632.9 373.6,1633.7 373.7,1634.5 373.8,1635.4 373.9,1636.2 374,1637 374.1,1637.8 374.2,1638.6 374.3,1639.5 374.4,1640.3 374.5,1641.1 374.6,1641.9 374.7,1642.7 374.8,1643.4 374.9,1644.2 375,1645 375.1,1645.8 375.2,1646.6 375.3,1647.3 375.5,1648.1 375.6,1648.9 375.7,1649.6 375.8,1650.4 375.9,1651.1 376,1651.9 376.1,1652.6 376.2,1653.3 376.3,1654.1 376.4,1654.8 376.5,1655.5 376.6,1656.3 376.7,1657 376.8,1657.7 376.9,1658.4 377,1659.1 377.1,1659.8 377.2,1660.5 377.3,1661.2 377.5,1661.9 377.6,1662.6 377.7,1663.3 377.8,1664 377.9,1664.7 378.9,1671.3 380,1677.7 381,1683.7 382.1,1689.5 383.1,1695.1 384.2,1700.4 385.2,1705.5 386.3,1710.3 387.3,1715 388.4,1719.5 389.4,1723.9 390.5,1728.1 391.5,1732.1 392.6,1736 393.7,1739.7 394.7,1743.3 395.8,1746.8 396.8,1750.2 397.9,1753.4 398.9,1756.6 400,1759.6 401,1762.6 402.1,1765.4 403.1,1768.2 404.2,1770.9 405.2,1773.5 406.3,1776.1 407.3,1778.5 408.4,1780.9 409.4,1783.2 410.5,1785.5 411.5,1787.7 412.6,1789.8 413.6,1791.9 414.7,1794 415.7,1795.9 416.8,1797.9 417.8,1799.7 418.9,1801.6 419.9,1803.4 421,1805.1 422.1,1806.8 423.1,1808.5 424.2,1810.1 425.2,1811.7 426.3,1813.2 427.3,1814.7 428.4,1816.2 429.4,1817.7 430.5,1819.1 431.5,1820.5 432.6,1821.8 433.6,1823.2 434.7,1824.5 435.7,1825.7 436.8,1827 437.8,1828.2 438.9,1829.4 439.9,1830.6 441,1831.7 442,1832.8 443.1,1834 444.1,1835 445.2,1836.1 446.2,1837.1 447.3,1838.2 448.3,1839.2 449.4,1840.2 450.5,1841.1 451.5,1842.1 452.6,1843 453.6,1843.9 454.7,1844.8 455.7,1845.7 456.8,1846.6 457.8,1847.5 458.9,1848.3 459.9,1849.1 461,1849.9 462,1850.7 463.1,1851.5 464.1,1852.3 465.2,1853.1 466.2,1853.8 467.3,1854.6 468.3,1855.3 469.4,1856 470.4,1856.7 471.5,1857.4 472.5,1858.1 473.6,1858.7 474.6,1859.4 475.7,1860.1 476.7,1860.7 477.8,1861.3 478.9,1862 479.9,1862.6 481,1863.2 482,1863.8 483.1,1864.4 484.1,1865 485.2,1865.5 486.2,1866.1 487.3,1866.7 488.3,1867.2 489.4,1867.8 490.4,1868.3 491.5,1868.8 492.5,1869.3 493.6,1869.8 494.6,1870.4 495.7,1870.9 496.7,1871.4 497.8,1871.8 498.8,1872.3 499.9,1872.8 500.9,1873.3 502,1873.7 503,1874.2 504.1,1874.6 508.3,1876.4 512.5,1878.1 516.7,1879.7 520.9,1881.2 525.1,1882.6 529.3,1884 533.5,1885.4 537.8,1886.7 542,1887.9 546.2,1889.1 550.4,1890.2 554.6,1891.3 558.8,1892.3 563,1893.3 567.2,1894.3 571.4,1895.3 575.6,1896.2 579.8,1897 584,1897.9 588.2,1898.7 592.5,1899.5 596.7,1900.3 600.9,1901 605.1,1901.7 609.3,1902.4 613.5,1903.1 617.7,1903.7 621.9,1904.4 626.1,1905 630.3,1905.6 634.5,1906.2 638.7,1906.7 642.9,1907.3 647.1,1907.8 651.4,1908.4 655.6,1908.9 659.8,1909.4 664,1909.8 668.2,1910.3 672.4,1910.8 676.6,1911.2 680.8,1911.7 685,1912.1 689.2,1912.5 693.4,1912.9 697.6,1913.3 701.8,1913.7 706.1,1914.1 710.3,1914.5 714.5,1914.8 718.7,1915.2 722.9,1915.5 727.1,1915.9 731.3,1916.2 735.5,1916.5 739.7,1916.8 743.9,1917.1 748.1,1917.5 752.3,1917.8 756.5,1918 760.7,1918.3 765,1918.6 769.2,1918.9 773.4,1919.2 777.6,1919.4 781.8,1919.7 786,1920 790.2,1920.2 794.4,1920.5 798.6,1920.7 802.8,1920.9 807,1921.2 811.2,1921.4 815.4,1921.6 819.7,1921.8 823.9,1922.1 828.1,1922.3 832.3,1922.5 836.5,1922.7 840.7,1922.9 844.9,1923.1 849.1,1923.3 853.3,1923.5 857.5,1923.7 861.7,1923.9 865.9,1924.1 870.1,1924.2 874.3,1924.4 878.6,1924.6 882.8,1924.8 887,1924.9 891.2,1925.1 895.4,1925.3 899.6,1925.4 903.8,1925.6 908,1925.8 912.2,1925.9 916.4,1926.1 920.6,1926.2 924.8,1926.4 929,1926.5 933.3,1926.7 937.5,1926.8 941.7,1926.9 945.9,1927.1 950.1,1927.2 954.3,1927.4 958.5,1927.5 962.7,1927.6 966.9,1927.8 971.1,1927.9 975.3,1928 979.5,1928.1 983.7,1928.3 987.9,1928.4 992.2,1928.5 996.4,1928.6 1000.6,1928.7 1004.8,1928.9 1009,1929 1013.2,1929.1 1017.4,1929.2 1021.6,1929.3 1025.8,1929.4 1030,1929.5" fill="none" stroke="#000" stroke-width="5" stroke-linejoin="round"/></g>
<polyline points="1206.5,962.5 1751,162.5" fill="none" stroke="#000" stroke-width="4.8" stroke-linejoin="round"/>
<polyline points="1206.1,1891.4 1751.1,1122" fill="none" stroke="#000" stroke-width="4.8" stroke-linejoin="round"/>
<path d="M338.7 113.5H1033M335.8 112.7V1011.7M1030.5 111V1011.7M333.3 1009.2H1033" fill="none" stroke="#000" stroke-width="5"/>
<path d="M338.7 1057.8H1033M335.8 1057V1953M1030.5 1055.3V1953M333.3 1950.5H1033" fill="none" stroke="#000" stroke-width="5"/>
<path d="M1133.9 113.5H1828.3M1131 112.7V1011.7M1825.8 111V1011.7M1128.5 1009.2H1828.3" fill="none" stroke="#000" stroke-width="5"/>
<path d="M1133.9 1057.8H1828.3M1131 1057V1953M1825.8 1055.3V1953M1128.5 1950.5H1828.3" fill="none" stroke="#000" stroke-width="5"/>
<text x="302.5" y="129" text-anchor="end" font-size="56">0.2</text>
<text x="302.5" y="575" text-anchor="end" font-size="56">0.1</text>
<text x="302.5" y="1021.5" text-anchor="end" font-size="56">0.0</text>
<text x="302.5" y="1279.5" text-anchor="end" font-size="56">0.10</text>
<text x="302.5" y="1622" text-anchor="end" font-size="56">0.05</text>
<text x="302.5" y="1964.5" text-anchor="end" font-size="56">0.00</text>
<text x="1098" y="277.5" text-anchor="end" font-size="56">2</text>
<text x="1098" y="574.5" text-anchor="end" font-size="56">0</text>
<text x="1098" y="873" text-anchor="end" font-size="56"><tspan font-size="70" dy="4.3">-</tspan><tspan dy="-4.3">2</tspan></text>
<text x="1098" y="1163" text-anchor="end" font-size="56">2</text>
<text x="1098" y="1519.3" text-anchor="end" font-size="56">0</text>
<text x="1098" y="1876.4" text-anchor="end" font-size="56"><tspan font-size="70" dy="4.3">-</tspan><tspan dy="-4.3">2</tspan></text>
<text x="335.8" y="2020.2" text-anchor="middle" font-size="56">0</text>
<text x="548" y="2020.2" text-anchor="middle" font-size="56">100</text>
<text x="757.4" y="2020.2" text-anchor="middle" font-size="56">200</text>
<text x="966.9" y="2020.2" text-anchor="middle" font-size="56">300</text>
<text x="1167.1" y="2020.2" text-anchor="middle" font-size="56">-80</text>
<text x="1322" y="2020.2" text-anchor="middle" font-size="56">-40</text>
<text x="1476.8" y="2020.2" text-anchor="middle" font-size="56">0</text>
<text x="1631.6" y="2020.2" text-anchor="middle" font-size="56">40</text>
<text x="1786.7" y="2020.2" text-anchor="middle" font-size="56">80</text>
<text x="685.5" y="2108.4" text-anchor="middle" font-size="58">T (K)</text>
<text x="1477" y="2108.4" text-anchor="middle" font-size="58">H (kOe)</text>
<text x="157" y="599.6" text-anchor="middle" font-size="59.5" transform="rotate(-90 157 599.6)">m (emu/g)</text>
<text x="153.5" y="1541.3" text-anchor="middle" font-size="58.5" transform="rotate(-90 153.5 1541.3)">m (emu/g)</text>
<text x="403" y="201" text-anchor="start" font-size="55.5">Gd10</text>
<text x="402" y="270" text-anchor="start" font-size="55.5" style="white-space:pre">H =  0.01 T</text>
<text x="1201" y="201" text-anchor="start" font-size="55.5">Gd10</text>
<text x="1201" y="270" text-anchor="start" font-size="55.5">T = 310 K</text>
<text x="403" y="1166" text-anchor="start" font-size="55.5">Gd1</text>
<text x="402" y="1235" text-anchor="start" font-size="55.5">H = 0.01 T</text>
<text x="1201" y="1166" text-anchor="start" font-size="55.5">Gd1</text>
<text x="1201" y="1235" text-anchor="start" font-size="55.5">T = 310 K</text>
<text x="901" y="924" text-anchor="start" font-size="62">(a)</text>
<text x="901" y="1856.5" text-anchor="start" font-size="62">(b)</text>
<text x="1707" y="924" text-anchor="start" font-size="62">(c)</text>
<text x="1707" y="1856.5" text-anchor="start" font-size="62">(d)</text>
<text transform="translate(84 887.9) scale(1 1.146)" font-size="74" font-weight="bold">o</text>
</svg></body></html>
